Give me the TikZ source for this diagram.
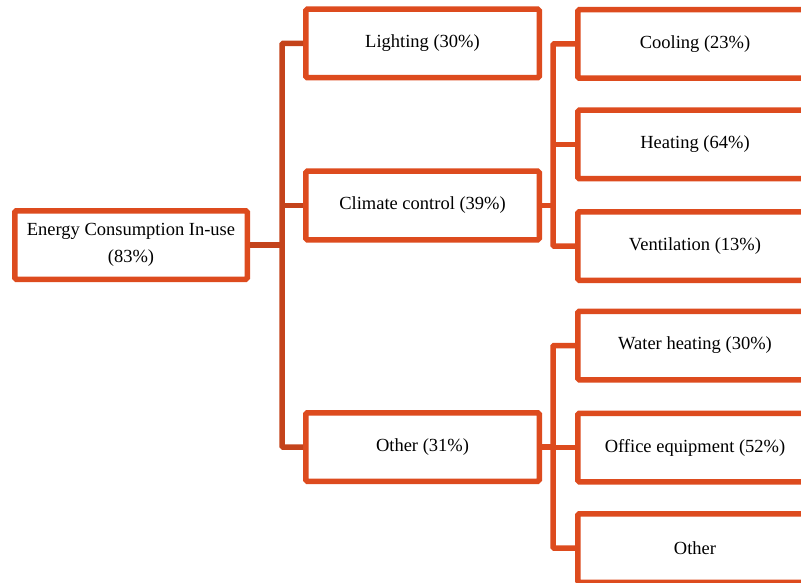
\documentclass[tikz,border=0pt]{standalone}
\usepackage{fontspec}
\setmainfont{Liberation Serif}
\definecolor{boxc}{HTML}{DD4B1E}
\definecolor{linkc}{HTML}{C4431B}
\begin{document}
\begin{tikzpicture}[x=1pt,y=-1pt,
  box/.style={draw=boxc,line width=5.5pt,rounded corners=1.5pt,fill=white,inner sep=0pt,
    minimum height=68.5pt,font=\fontsize{18.5}{27}\selectfont,align=center},
  lvone/.style={box,minimum width=233.5pt},
  lvtwo/.style={box,minimum width=234.5pt},
  link/.style={draw=linkc,line width=5.5pt,rounded corners=1pt},
  linkb/.style={draw=boxc,line width=5.5pt,rounded corners=1pt}]
\useasboundingbox (0,0) rectangle (801,583);
\clip (0,0) rectangle (801,583);
\node[box,minimum width=232.5pt] (root) at (131,245) {Energy Consumption In-use\\(83\%)};
\node[lvone] (light) at (422.5,43.5) {Lighting (30\%)};
\node[lvone] (clim) at (422.5,205.5) {Climate control (39\%)};
\node[lvone] (oth) at (422.5,447) {Other (31\%)};
\node[lvtwo] (cool) at (695,44) {Cooling (23\%)};
\node[lvtwo] (heat) at (695,144.5) {Heating (64\%)};
\node[lvtwo] (vent) at (695,246) {Ventilation (13\%)};
\node[lvtwo] (water) at (695,345.5) {Water heating (30\%)};
\node[lvtwo] (office) at (695,447.5) {Office equipment (52\%)};
\node[lvtwo] (oth2) at (695,548) {Other};
\coordinate (j1) at (282,245);
\coordinate (j2) at (553,205.5);
\coordinate (j3) at (553,447);
\draw[link] (light.west) -| (j1) |- (oth.west);
\draw[link] (root.east) -- (j1);
\draw[link] (j1 |- clim.west) -- (clim.west);
\draw[linkb] (cool.west) -| (j2) |- (vent.west);
\draw[linkb] (clim.east) -- (j2);
\draw[linkb] (j2 |- heat.west) -- (heat.west);
\draw[linkb] (water.west) -| (j3) |- (oth2.west);
\draw[linkb] (oth.east) -- (j3);
\draw[linkb] (j3 |- office.west) -- (office.west);
\end{tikzpicture}
\end{document}
